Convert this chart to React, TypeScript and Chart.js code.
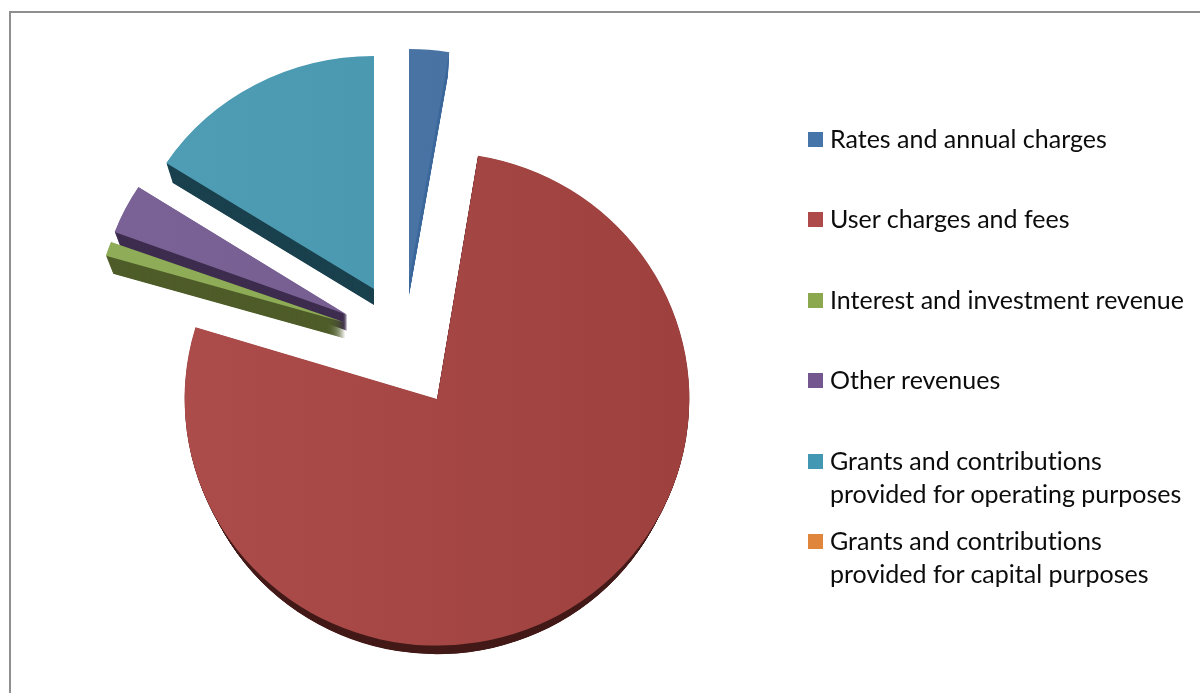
import React, { useEffect, useRef } from "react";
import { Chart, registerables } from "chart.js";

Chart.register(...registerables);

// Revenue shares, in percent, in legend order.
const categories: string[][] = [
  ["Rates and annual charges"],
  ["User charges and fees"],
  ["Interest and investment revenue"],
  ["Other revenues"],
  ["Grants and contributions", "provided for operating purposes"],
  ["Grants and contributions", "provided for capital purposes"],
];
const shares = [2.6, 77.1, 1.0, 3.4, 15.9, 0];

// Colours: swatch, lit top face (left/right of the light falloff), side wall.
const swatchColors = ["#4675A9", "#AE4A4A", "#8CA84E", "#75578F", "#4298B3", "#DF853C"];
const faceLeft = ["#4A76A8", "#AE4E4C", "#8FAD58", "#7A6296", "#4F9EB5", "#DF853C"];
const faceRight = ["#47709F", "#9D403E", "#8AA850", "#725A8C", "#4493AC", "#DF853C"];
const wallColors = ["#3E6A9C", "#441B19", "#4F5D2A", "#3E2D4F", "#1B414E", "#7A4415"];

// Exploded-pie geometry, one entry per slice: pull-out distance across and
// along the view, vertical foreshortening, rim growth, and extrusion depth.
const pullAcross = [62, 62.5, 62.2, 63.6, 62.6, 0];
const pullAlong = [67.7, 61.8, 74.4, 71, 65.5, 0];
const foreshorten = [0.931, 0.977, 0.92, 0.951, 0.943, 1];
const rimGrowth = [1, 1.022, 1.012, 1.005, 1, 1];
const wallDepth = [16, 16, 16, 16, 16, 0];
const WALL_SHRINK = 0.97;
const PIE_RADIUS = 247;

// Far slices are painted first so nearer ones overlap their walls.
const paintOrder = [0, 4, 3, 2, 1, 5];

const explodedPie = {
  id: "explodedPie",
  afterDatasetUpdate(chart: any, args: any) {
    const arcs = chart.getDatasetMeta(args.index).data;
    arcs.forEach((arc: any, i: number) => {
      const mid = (arc.startAngle + arc.endAngle) / 2;
      arc.x += Math.cos(mid) * pullAcross[i];
      arc.y += Math.sin(mid) * pullAlong[i];
      arc.outerRadius *= rimGrowth[i];
    });
  },
  beforeDatasetDraw(chart: any, args: any) {
    const { ctx } = chart;
    const arcs = args.meta.data;
    for (const i of paintOrder) {
      const arc = arcs[i];
      if (arc.endAngle - arc.startAngle <= 0) continue;
      const depth = wallDepth[i];
      ctx.fillStyle = wallColors[i];
      for (let step = depth; step > 0; step -= 0.5) {
        const t = step / depth;
        const k = 1 - (1 - WALL_SHRINK) * t;
        ctx.save();
        ctx.translate(arc.x, arc.y + step);
        ctx.scale(k, k * foreshorten[i]);
        ctx.beginPath();
        ctx.moveTo(0, 0);
        ctx.arc(0, 0, arc.outerRadius, arc.startAngle, arc.endAngle);
        ctx.closePath();
        ctx.fill();
        ctx.restore();
      }
      ctx.save();
      ctx.translate(arc.x, arc.y);
      ctx.scale(1, foreshorten[i]);
      ctx.translate(-arc.x, -arc.y);
      arc.draw(ctx);
      ctx.restore();
    }
    return false;
  },
};

export default function App() {
  const canvasRef = useRef<HTMLCanvasElement>(null);

  useEffect(() => {
    const canvas = canvasRef.current!;
    const chart = new Chart(canvas, {
      type: "pie",
      data: {
        labels: categories.map((c) => c.join(" ")),
        datasets: [
          {
            data: shares,
            borderWidth: 0,
            backgroundColor: (c: any) => {
              const i = c.dataIndex ?? 0;
              const g = c.chart.ctx.createLinearGradient(120, 0, 690, 0);
              g.addColorStop(0, faceLeft[i]);
              g.addColorStop(1, faceRight[i]);
              return g;
            },
          },
        ],
      },
      options: {
        animation: false,
        responsive: false,
        radius: PIE_RADIUS,
        layout: { padding: { right: 392 } },
        plugins: { legend: { display: false }, tooltip: { enabled: false } },
      },
      plugins: [explodedPie],
    } as any);
    return () => chart.destroy();
  }, []);

  return (
    <div
      style={{
        position: "absolute",
        left: 0,
        top: 0,
        width: 1200,
        height: 693,
        overflow: "hidden",
        background: "#fff",
      }}
    >
      <canvas ref={canvasRef} width={1200} height={693} style={{ position: "absolute", left: 0, top: 0 }} />
      <div
        style={{
          position: "absolute",
          left: 9,
          top: 11,
          width: 1300,
          height: 800,
          borderLeft: "2px solid #8f8f8f",
          borderTop: "2px solid #8f8f8f",
        }}
      />
      {categories.map((lines, i) => (
        <div key={i}>
          <div
            style={{
              position: "absolute",
              left: 808,
              top: 132 + i * 80.4,
              width: 15,
              height: 15,
              background: swatchColors[i],
            }}
          />
          <div
            style={{
              position: "absolute",
              left: 830,
              top: 122 + i * 80.4,
              font: "25px Lato, sans-serif",
              lineHeight: "33px",
              fontVariantLigatures: "none",
              color: "#0c0c0c",
              whiteSpace: "nowrap",
            }}
          >
            {lines.map((line) => (
              <div key={line}>{line}</div>
            ))}
          </div>
        </div>
      ))}
    </div>
  );
}
